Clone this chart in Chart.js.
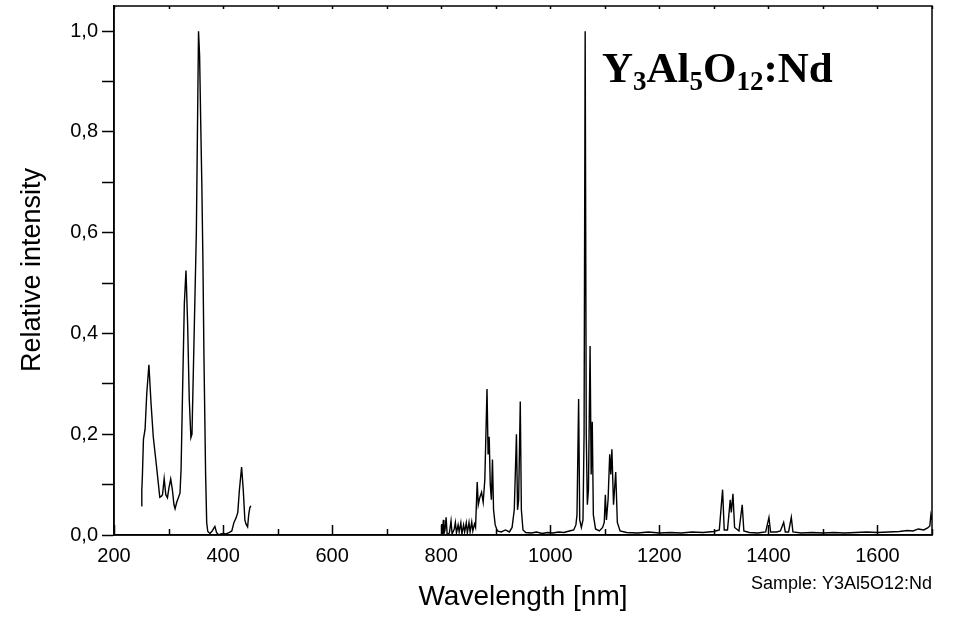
<!DOCTYPE html>
<html>
<head>
<meta charset="utf-8">
<script src="https://cdn.jsdelivr.net/npm/chart.js@4/dist/chart.umd.min.js"></script>
<style>
  html, body { margin: 0; padding: 0; background: #fff; }
  canvas { display: block; }
</style>
</head>
<body>
<canvas id="canvas-spectrum" width="958" height="617"></canvas>
<script>
// UV part of the spectrum (250-451 nm)
const uvWavelengths = [
  250, 251, 252, 254, 257, 260, 264, 268, 272, 278,
  284, 287, 289, 292, 295, 298, 301, 304, 307, 310,
  312, 315, 318, 321, 323, 326, 329, 332, 335, 338,
  341, 343, 345, 348, 351, 353, 355, 357, 359, 361,
  363, 365, 368, 370, 372, 376, 380, 385, 388, 392,
  396, 400, 405, 410, 416, 420, 424, 427, 430, 434,
  437, 440, 442, 445, 447, 449, 451,
]
const uvIntensity = [
  0.058, 0.09, 0.115, 0.19, 0.21, 0.28, 0.338, 0.26, 0.195, 0.136,
  0.075, 0.077, 0.08, 0.112, 0.08, 0.074, 0.095, 0.111, 0.09, 0.06,
  0.052, 0.065, 0.074, 0.083, 0.13, 0.3, 0.46, 0.525, 0.42, 0.27,
  0.193, 0.2, 0.3, 0.45, 0.6, 0.8, 1.0, 0.95, 0.82, 0.7,
  0.55, 0.35, 0.12, 0.024, 0.007, 0.003, 0.008, 0.017, 0.005, 0.0,
  0.002, 0.003, 0.002, 0.004, 0.008, 0.025, 0.034, 0.045, 0.09, 0.135,
  0.09, 0.03, 0.022, 0.016, 0.04, 0.054, 0.058,
]

// NIR part of the spectrum (800-1700 nm)
const nirWavelengths = [
  800, 801, 802, 804, 805, 807, 809, 811, 815, 818,
  820, 824, 826, 828, 831, 833, 836, 838, 841, 843,
  846, 848, 851, 853, 856, 858, 861, 863, 866, 868,
  871, 874, 877, 880, 884, 886, 888, 890, 892, 894,
  896, 899, 903, 910, 918, 925, 930, 934, 938, 940,
  942, 945, 947, 950, 955, 965, 975, 985, 995, 1005,
  1015, 1025, 1035, 1043, 1047, 1049, 1052, 1054, 1057, 1060,
  1062, 1064, 1066, 1068, 1070, 1073, 1075, 1077, 1079, 1083,
  1090, 1096, 1099, 1101, 1103, 1106, 1109, 1111, 1113, 1116,
  1120, 1123, 1128, 1140, 1160, 1180, 1200, 1220, 1240, 1260,
  1280, 1300, 1310, 1316, 1319, 1325, 1330, 1332, 1335, 1338,
  1346, 1352, 1355, 1365, 1380, 1395, 1401, 1404, 1415, 1422,
  1428, 1431, 1437, 1442, 1445, 1460, 1480, 1500, 1520, 1540,
  1560, 1580, 1600, 1620, 1640, 1655, 1665, 1675, 1685, 1692,
  1696, 1698, 1700,
]
const nirIntensity = [
  0.0, 0.022, 0.0, 0.03, 0.002, 0.01, 0.035, 0.0, 0.004, 0.028,
  0.002, 0.012, 0.025, 0.004, 0.02, 0.006, 0.024, 0.002, 0.02, 0.006,
  0.024, 0.004, 0.025, 0.006, 0.026, 0.008, 0.022, 0.015, 0.105, 0.06,
  0.075, 0.085, 0.065, 0.11, 0.29, 0.16, 0.195, 0.1, 0.07, 0.15,
  0.05, 0.02, 0.008, 0.006, 0.01, 0.006, 0.015, 0.05, 0.2, 0.05,
  0.07, 0.265, 0.05, 0.01, 0.005, 0.004, 0.006, 0.003, 0.005, 0.004,
  0.006, 0.005, 0.008, 0.01, 0.02, 0.04, 0.27, 0.03, 0.015, 0.03,
  0.2, 1.0, 0.2, 0.06, 0.09, 0.375, 0.12, 0.225, 0.04, 0.012,
  0.008, 0.015, 0.025, 0.08, 0.03, 0.07, 0.16, 0.12, 0.17, 0.06,
  0.125, 0.025, 0.008, 0.005, 0.004, 0.006, 0.004, 0.005, 0.004, 0.006,
  0.005, 0.007, 0.01, 0.09, 0.01, 0.01, 0.07, 0.045, 0.082, 0.015,
  0.008, 0.06, 0.008, 0.005, 0.004, 0.006, 0.035, 0.006, 0.006, 0.008,
  0.025, 0.006, 0.006, 0.035, 0.006, 0.004, 0.005, 0.004, 0.005, 0.004,
  0.005, 0.006, 0.005, 0.006, 0.007, 0.009, 0.008, 0.012, 0.01, 0.014,
  0.018, 0.04, 0.03,
]

const xRange = [200, 1700]
const yRange = [0, 1.05]
const xTitle = 'Wavelength [nm]'
const yTitle = 'Relative intensity'
const sampleNote = 'Sample: Y3Al5O12:Nd'
// formula title: [text, isSubscript]
const formulaParts = [['Y', false], ['3', true], ['Al', false], ['5', true], ['O', false], ['12', true], [':Nd', false]]

const sansFont = "'Liberation Sans', Arial, sans-serif"
const serifFont = "'Liberation Serif', 'Times New Roman', serif"

const toPoints = (xs, ys) => xs.map((x, i) => ({ x, y: ys[i] }))

// keep the plot box where the reference has it, labels may hang over
function fixBox(size, prop) {
  return (scale) => {
    scale[prop] = size
    scale.paddingTop = 0
    scale.paddingBottom = 0
    scale.paddingLeft = 0
    scale.paddingRight = 0
  }
}

const decorations = {
  id: 'decorations',
  afterDatasetsDraw(chart) {
    const { ctx, chartArea: area, scales } = chart
    ctx.save()
    ctx.strokeStyle = '#000'
    ctx.lineWidth = 1.5
    ctx.strokeRect(area.left, area.top, area.right - area.left, area.bottom - area.top)

    // inward ticks on the bottom axis, small ticks on the top axis
    scales.x.ticks.forEach((tick) => {
      const px = Math.round(scales.x.getPixelForValue(tick.value)) + 0.5
      const major = tick.value % 200 === 0
      ctx.beginPath()
      ctx.moveTo(px, area.bottom)
      ctx.lineTo(px, area.bottom - (major ? 10 : 6))
      ctx.moveTo(px, area.top)
      ctx.lineTo(px, area.top + 3)
      ctx.stroke()
    })
    ctx.restore()
  },
  afterDraw(chart) {
    const { ctx, chartArea: area } = chart
    ctx.save()
    ctx.fillStyle = '#000'

    ctx.font = `27px ${sansFont}`
    ctx.textAlign = 'center'
    ctx.textBaseline = 'middle'
    ctx.save()
    ctx.translate(33, 270)
    ctx.rotate(-Math.PI / 2)
    ctx.fillText(yTitle, 0, 0)
    ctx.restore()

    ctx.font = `28px ${sansFont}`
    ctx.fillText(xTitle, (area.left + area.right) / 2, 597)

    ctx.font = `18px ${sansFont}`
    ctx.textAlign = 'right'
    ctx.textBaseline = 'alphabetic'
    ctx.fillText(sampleNote, area.right, 589)

    // compound label with subscripts
    let x = 602
    const baseline = 82
    ctx.textAlign = 'left'
    formulaParts.forEach(([text, sub]) => {
      ctx.font = sub ? `bold 27px ${serifFont}` : `bold 43px ${serifFont}`
      ctx.fillText(text, x, sub ? baseline + 8 : baseline)
      x += ctx.measureText(text).width
    })
    ctx.restore()
  },
}

const config = {
  type: 'scatter',
  data: {
    datasets: [
      {
        data: toPoints(uvWavelengths, uvIntensity),
        showLine: true,
        borderColor: '#000',
        borderWidth: 1.4,
        pointRadius: 0,
        tension: 0,
      },
      {
        data: toPoints(nirWavelengths, nirIntensity),
        showLine: true,
        borderColor: '#000',
        borderWidth: 1.4,
        pointRadius: 0,
        tension: 0,
      },
    ],
  },
  options: {
    responsive: false,
    animation: false,
    devicePixelRatio: 1,
    layout: { padding: { top: 6, right: 26, left: 0, bottom: 0 } },
    plugins: {
      legend: { display: false },
      tooltip: { enabled: false },
    },
    scales: {
      x: {
        type: 'linear',
        min: xRange[0],
        max: xRange[1],
        afterFit: fixBox(82, 'height'),
        grid: { display: true, drawOnChartArea: false, drawTicks: false },
        border: { display: true, color: '#000', width: 1.5 },
        ticks: {
          stepSize: 100,
          autoSkip: false,
          maxRotation: 0,
          padding: 9,
          color: '#000',
          font: { family: sansFont, size: 20 },
          callback: (value) => (value % 200 === 0 ? String(value) : ''),
        },
      },
      y: {
        type: 'linear',
        min: yRange[0],
        max: yRange[1],
        afterFit: fixBox(114, 'width'),
        grid: { display: true, drawOnChartArea: false, tickLength: 12, tickColor: '#000', tickWidth: 1.5 },
        border: { display: true, color: '#000', width: 1.5 },
        ticks: {
          stepSize: 0.1,
          includeBounds: false,
          autoSkip: false,
          padding: 4,
          color: '#000',
          font: { family: sansFont, size: 20 },
          callback: (value) => {
            const tenths = Math.round(value * 10)
            return tenths % 2 === 0 ? (tenths / 10).toFixed(1).replace('.', ',') : ''
          },
        },
      },
    },
  },
  plugins: [decorations],
}

window.chart = new Chart(document.getElementById('canvas-spectrum').getContext('2d'), config)
</script>
</body>
</html>
